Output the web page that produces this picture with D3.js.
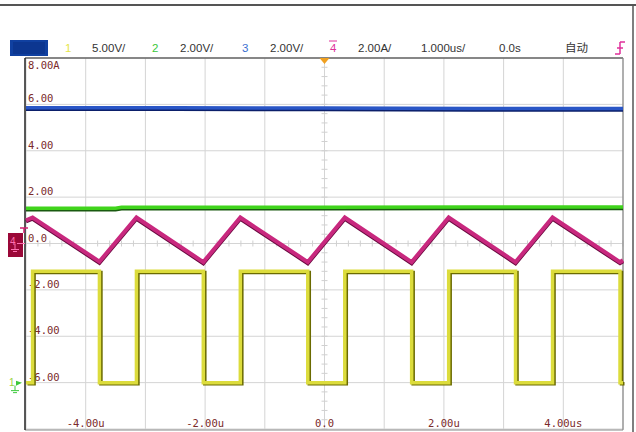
<!DOCTYPE html>
<html><head><meta charset="utf-8">
<script src="https://cdn.jsdelivr.net/npm/d3@7"></script>
<style>body{margin:0;background:#fff}svg{display:block}</style>
</head><body>
<svg id="c" width="636" height="432"></svg>
<script>
// ---- data ----
const xTicks = [-4, -2, 0, 2, 4];
const xTickLabels = ["-4.00u", "-2.00u", "0.0", "2.00u", "4.00us"];
const yTicks = [8, 6, 4, 2, 0, -2, -4, -6];
const yTickLabels = ["8.00A", "6.00", "4.00", "2.00", "0.0", "-2.00", "-4.00", "-6.00"];
const headerItems = [
  {t:"1", c:"#e6e64a", x:65}, {t:"5.00V/", c:"#333", x:92},
  {t:"2", c:"#3cc83c", x:152}, {t:"2.00V/", c:"#333", x:180},
  {t:"3", c:"#3a6fd0", x:242}, {t:"2.00V/", c:"#333", x:270},
  {t:"4", c:"#e0309a", x:330}, {t:"2.00A/", c:"#333", x:358},
  {t:"1.000us/", c:"#333", x:421}, {t:"0.0s", c:"#333", x:499},
  {t:"自动", c:"#333", x:565}
];
// ch3 (blue) and ch2 (green): flat levels
const ch3Time = [-5, -2.5, 0, 2.5, 5];
const ch3Values = [5.85, 5.85, 5.84, 5.82, 5.82];
const ch2Time = [-5, -3.5, -3.4, 0, 2.5, 5];
const ch2Values = [1.52, 1.52, 1.56, 1.56, 1.57, 1.57];
// ch4 (magenta) triangle current
const ch4Time = [-5, -4.89, -3.77, -3.15, -2.03, -1.41, -0.28, 0.34, 1.46, 2.08, 3.20, 3.82, 4.95, 5];
const ch4Values = [1.0, 1.12, -0.78, 1.12, -0.80, 1.12, -0.80, 1.12, -0.80, 1.12, -0.80, 1.12, -0.80, -0.72];
// ch1 (yellow) square wave
const ch1Time = [-5, -4.89, -4.89, -3.77, -3.77, -3.15, -3.15, -2.03, -2.03, -1.41, -1.41, -0.28, -0.28, 0.34, 0.34, 1.46, 1.46, 2.08, 2.08, 3.20, 3.20, 3.82, 3.82, 4.95, 4.95, 5];
const ch1Values = [-6.0, -6.0, -1.2, -1.2, -6.0, -6.0, -1.2, -1.2, -6.0, -6.0, -1.2, -1.2, -6.0, -6.0, -1.2, -1.2, -6.0, -6.0, -1.2, -1.2, -6.0, -6.0, -1.2, -1.2, -6.0, -6.0];

// ---- drawing ----
const svg = d3.select("#c");
const L = 26, R = 623, T = 58, B = 429;
const x = d3.scaleLinear().domain([-5, 5]).range([L, R]);
const y = d3.scaleLinear().domain([-8, 8]).range([B, T]);

// outer frame lines
svg.append("line").attr("x1",0).attr("x2",636).attr("y1",5).attr("y2",5).attr("stroke","#555").attr("stroke-width",2);
svg.append("line").attr("x1",633).attr("x2",633).attr("y1",5).attr("y2",432).attr("stroke","#555").attr("stroke-width",1.5);

// header
svg.append("rect").attr("x",10).attr("y",40).attr("width",38).attr("height",16).attr("fill","#1040a0");
svg.append("rect").attr("x",13).attr("y",42).attr("width",32).attr("height",12).attr("fill","#0c3690");
svg.append("g").selectAll("text").data(headerItems).join("text")
  .attr("x", d => d.x).attr("y", 52).attr("fill", d => d.c)
  .attr("font-family", "'Liberation Sans','DejaVu Sans','Noto Sans CJK SC',sans-serif").attr("font-size", 11.5)
  .text(d => d.t);
svg.append("line").attr("x1",329).attr("x2",337).attr("y1",41).attr("y2",41).attr("stroke","#e0309a");
// trigger icon
svg.append("path").attr("d","M617,48 h6 M620,42 v12 M620,42 h5 M615,54 h5").attr("stroke","#e0309a").attr("stroke-width",1.5).attr("fill","none");

// grid
const gx = d3.range(-5, 5.01, 1);
const gy = d3.range(-8, 8.01, 2);
svg.append("g").selectAll("line").data(gx).join("line")
  .attr("x1", d => x(d)).attr("x2", d => x(d)).attr("y1", T).attr("y2", B)
  .attr("stroke", "#d4d4d4").attr("stroke-width", 1);
svg.append("g").selectAll("line").data(gy).join("line")
  .attr("x1", L).attr("x2", R).attr("y1", d => y(d)).attr("y2", d => y(d))
  .attr("stroke", "#d4d4d4").attr("stroke-width", 1);
// minor ticks on center axes
const minorX = d3.range(-5, 5.001, 0.2);
svg.append("g").selectAll("line").data(minorX).join("line")
  .attr("x1", d => x(d)).attr("x2", d => x(d)).attr("y1", y(0)-3).attr("y2", y(0)+3)
  .attr("stroke", "#d0d0d0");
const minorY = d3.range(-8, 8.001, 0.4);
svg.append("g").selectAll("line").data(minorY).join("line")
  .attr("x1", x(0)-3).attr("x2", x(0)+3).attr("y1", d => y(d)).attr("y2", d => y(d))
  .attr("stroke", "#d0d0d0");

// plot frame
svg.append("line").attr("x1",L-1).attr("x2",R).attr("y1",T).attr("y2",T).attr("stroke","#666").attr("stroke-width",1.5);
svg.append("line").attr("x1",L-1).attr("x2",R).attr("y1",B+1).attr("y2",B+1).attr("stroke","#888").attr("stroke-width",1.2);
svg.append("line").attr("x1",R).attr("x2",R).attr("y1",T).attr("y2",B+1).attr("stroke","#888").attr("stroke-width",1.2);
svg.append("line").attr("x1",L-1).attr("x2",L-1).attr("y1",T).attr("y2",B+1).attr("stroke","#222").attr("stroke-width",1.5);

// y labels
const mono = "'DejaVu Sans Mono','Liberation Mono',monospace";
svg.append("g").selectAll("text").data(yTicks).join("text")
  .attr("x", L + 2).attr("y", (d,i) => i === 0 ? y(d) + 11 : y(d) - 2)
  .attr("fill", "#7a2a2a").attr("font-family", mono).attr("font-size", 10.5)
  .text((d,i) => yTickLabels[i]);
// x labels
svg.append("g").selectAll("text").data(xTicks).join("text")
  .attr("x", d => x(d)).attr("y", B - 2).attr("text-anchor","middle")
  .attr("fill", "#7a2a2a").attr("font-family", mono).attr("font-size", 10.5)
  .text((d,i) => xTickLabels[i]);

// traces: bright body with a darker edge offset slightly
function trace(times, vals, dark, col, w, dx, dy) {
  const pts = times.map((t,i) => [t, vals[i]]);
  const line = d3.line().x(d => x(d[0])).y(d => y(d[1]));
  svg.append("path").attr("d", line(pts)).attr("fill","none").attr("stroke",dark).attr("stroke-width",w)
    .attr("transform", `translate(${dx},${dy})`);
  svg.append("path").attr("d", line(pts)).attr("fill","none").attr("stroke",col).attr("stroke-width",w);
}
trace(ch3Time, ch3Values, "#0b1f6a", "#2a56c6", 3.5, 0, 1.5);
trace(ch2Time, ch2Values, "#1a5a10", "#40d41c", 3.5, 0, 1.5);
trace(ch4Time, ch4Values, "#6a0a40", "#c8287e", 4, 0, 1.2);
trace(ch1Time, ch1Values, "#6a6a00", "#dcdc3c", 3.5, 1.5, 1.2);

// trigger position marker
svg.append("path").attr("d", `M${x(0)-5},${T} L${x(0)+5},${T} L${x(0)},${T+6} Z`).attr("fill","#f0a020");

// ch4 marker
const m4 = svg.append("g");
m4.append("path").attr("d","M20,228 h8 M24,228 v5").attr("stroke","#d02070").attr("stroke-width",1.5);
m4.append("rect").attr("x",8).attr("y",233).attr("width",15).attr("height",24).attr("fill","#9a0838");
m4.append("text").attr("x",10).attr("y",245).attr("fill","#ff70b0").attr("font-size",10).attr("font-family","'Liberation Sans',sans-serif").text("4");
m4.append("path").attr("d",`M17,${y(0)} h8 M15,${y(0)} v6 M11,${y(0)+6} h8 M13,${y(0)+8} h4`).attr("stroke","#ff70b0").attr("stroke-width",1);
// ch1 marker
const m1 = svg.append("g");
m1.append("text").attr("x",9).attr("y",y(-6)+3).attr("fill","#9ad23c").attr("font-size",10).attr("font-family","'Liberation Sans',sans-serif").text("1");
m1.append("path").attr("d",`M16,${y(-6)-2} L22,${y(-6)} L16,${y(-6)+3} Z`).attr("fill","#3cc83c");
m1.append("path").attr("d",`M15,${y(-6)+3} v5 M11,${y(-6)+8} h8 M13,${y(-6)+10} h4`).attr("stroke","#3cc83c").attr("stroke-width",1);
</script>
</body></html>
